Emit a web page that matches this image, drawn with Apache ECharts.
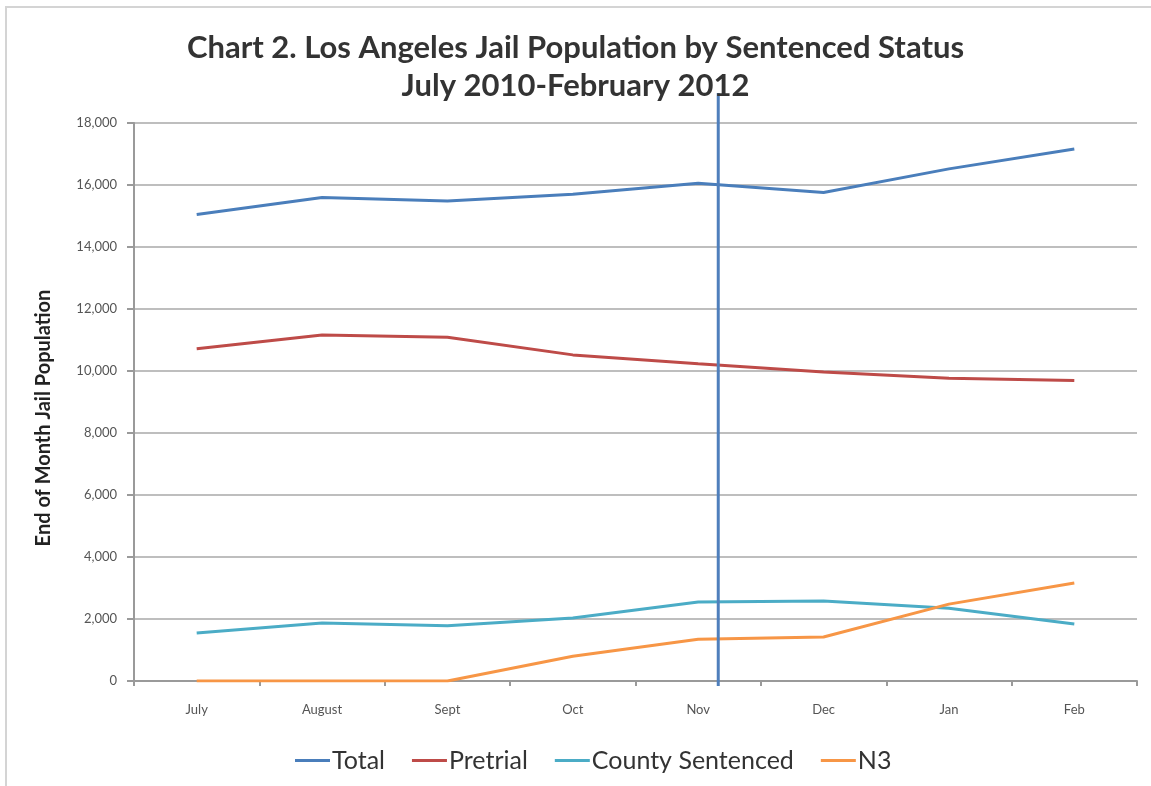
<!DOCTYPE html>
<html><head><meta charset="utf-8">
<script src="https://cdn.jsdelivr.net/npm/echarts@6/dist/echarts.min.js"></script>
<style>html,body{margin:0;padding:0;background:#fff}#c{width:1151px;height:786px}</style>
</head><body><div id="c"></div>
<script>
var months = ['July','August','Sept','Oct','Nov','Dec','Jan','Feb'];
var total = [15050, 15600, 15480, 15700, 16060, 15760, 16520, 17160];
var pretrial = [10720, 11160, 11090, 10520, 10230, 9970, 9770, 9690];
var county = [1550, 1870, 1780, 2030, 2550, 2580, 2350, 1840];
var n3 = [0, 0, 0, 800, 1350, 1420, 2480, 3160];
var yTicks = [0, 2000, 4000, 6000, 8000, 10000, 12000, 14000, 16000, 18000];
var annotationPos = [4.16]; // vertical annotation line, in category-index units

var chart = echarts.init(document.getElementById('c'));
var font = 'Lato, "Open Sans", sans-serif';
function mk(name, data, color){
  return {name:name, type:'line', data:data, showSymbol:false, symbol:'none',
    lineStyle:{color:color, width:3}, itemStyle:{color:color}, animation:false};
}
chart.setOption({
  animation:false,
  graphic:[{type:'polyline', shape:{points:[[6,786],[6,7],[1151,7]]}, style:{stroke:'#d4d4d4', lineWidth:2, fill:null}}],
  title:{text:'Chart 2. Los Angeles Jail Population by Sentenced Status\nJuly 2010-February 2012', left:'center', top:24,
    textStyle:{fontFamily:font, fontWeight:'bold', fontSize:31, color:'#333', lineHeight:38}},
  grid:{left:134, right:14, top:123, bottom:105},
  legend:{bottom:8, left:290, icon:'rect', itemWidth:35, itemHeight:3, itemGap:27,
    textStyle:{fontFamily:font, fontSize:25, color:'#333', padding:[0,0,0,-3]},
    data:['Total','Pretrial','County Sentenced','N3']},
  xAxis:[{type:'category', data:months, boundaryGap:true,
    axisLine:{lineStyle:{color:'#9a9a9a', width:2}},
    axisTick:{show:true, length:5, lineStyle:{color:'#9a9a9a', width:2}},
    axisLabel:{fontFamily:font, fontSize:13, color:'#555', margin:22}},
   {type:'value', min:-0.5, max:7.5, show:false}],
  yAxis:{type:'value', min:0, max:18000, interval:2000,
    name:'End of Month Jail Population', nameLocation:'middle', nameGap:80,
    nameTextStyle:{fontFamily:font, fontWeight:'bold', fontSize:20, color:'#222', padding:[0,32,0,0]},
    axisLine:{show:true, onZero:false, lineStyle:{color:'#9a9a9a', width:2}},
    axisTick:{show:true, inside:false, length:7, lineStyle:{color:'#9a9a9a', width:2}},
    splitLine:{lineStyle:{color:'#a8a8a8', width:1.5}},
    axisLabel:{fontFamily:font, fontSize:13, color:'#555', margin:17,
      formatter:function(v){return yTicks.indexOf(v)>=0 ? v.toLocaleString('en-US') : '';}}},
  series:[mk('Total', total, '#4a7ebb'), mk('Pretrial', pretrial, '#be4b48'),
    mk('County Sentenced', county, '#4bacc6'), mk('N3', n3, '#f79646'),
    {type:'custom', xAxisIndex:1, yAxisIndex:0, data:annotationPos.map(function(v){return [v];}), clip:false,
     renderItem:function(params, api){
       var top = api.coord([api.value(0), 18000]);
       var bot = api.coord([api.value(0), 0]);
       return {type:'line', shape:{x1:top[0], y1:top[1]-30, x2:bot[0], y2:bot[1]+5},
         style:{stroke:'#4f7fbc', lineWidth:3}};
     }, z:5, silent:true}]
});
</script></body></html>
